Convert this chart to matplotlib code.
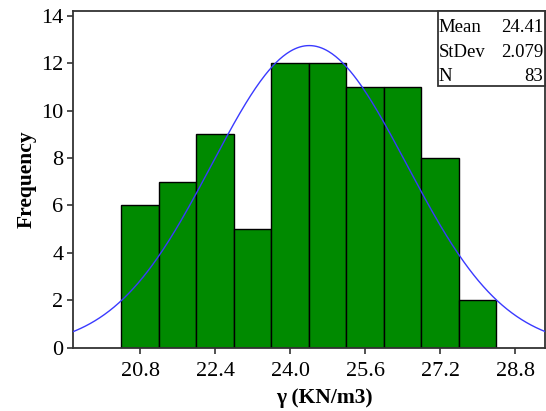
import matplotlib
matplotlib.use("Agg")
import matplotlib.pyplot as plt
import numpy as np
from matplotlib.patches import Rectangle

# histogram data (bin centres, width 0.8)
bin_centers = [20.8, 21.6, 22.4, 23.2, 24.0, 24.8, 25.6, 26.4, 27.2, 28.0]
counts = [6, 7, 9, 5, 12, 12, 11, 11, 8, 2]
bin_width = 0.8

# fitted normal summary
mean = 24.41
stdev = 2.079
n_obs = 83

x_ticks = [20.8, 22.4, 24.0, 25.6, 27.2, 28.8]
y_ticks = [0, 2, 4, 6, 8, 10, 12, 14]

plt.rcParams["font.family"] = ["Liberation Serif", "DejaVu Serif"]

fig = plt.figure(figsize=(5.46, 4.11), dpi=100)
ax = fig.add_axes([73 / 546, 1 - 347.7 / 411, (545 - 73) / 546, (347.7 - 11) / 411])

ax.bar(bin_centers, counts, width=bin_width, color="#008a00",
       edgecolor="black", linewidth=1.0, zorder=2)

xs = np.linspace(19.3, 29.5, 400)
pdf = n_obs * bin_width / (stdev * np.sqrt(2 * np.pi)) * np.exp(-0.5 * ((xs - mean) / stdev) ** 2)
ax.plot(xs, pdf, color="#3a3aff", linewidth=1.0, zorder=3)

ax.set_xlim(19.37, 29.44)
ax.set_ylim(0, 14.2)
ax.set_xticks(x_ticks, [f"{t:.1f}" for t in x_ticks])
ax.set_yticks(y_ticks)
ax.tick_params(direction="out", length=4, width=1.2, color="#333333",
               labelsize=16)
ax.tick_params(axis="x", pad=6)
ax.tick_params(axis="y", pad=3)
for side in ("left", "bottom", "top", "right"):
    ax.spines[side].set_color("#333333")
    ax.spines[side].set_linewidth(1.3)

ax.set_xlabel("γ (KN/m3)", fontsize=15.5, fontweight="bold")
ax.set_ylabel("Frequency", fontsize=15.5, fontweight="bold")
ax.xaxis.set_label_coords(0.532, -0.12)
ax.yaxis.set_label_coords(-0.076, 0.5)

# stats box in the top right corner
bx0, by0 = 0.773, 0.777
ax.add_patch(Rectangle((bx0, by0), 1 - bx0, 1 - by0, transform=ax.transAxes,
                       facecolor="white", edgecolor="#333333", linewidth=1.3,
                       zorder=5, clip_on=False))
rows = [("Mean", f"{mean:.2f}"), ("StDev", f"{stdev:.3f}"), ("N", f"{n_obs}")]
for i, (name, val) in enumerate(rows):
    yy = 0.950 - i * 0.073
    ax.text(bx0 + 0.002, yy, name, transform=ax.transAxes, fontsize=13.5,
            ha="left", va="center", zorder=6)
    ax.text(0.996, yy, val, transform=ax.transAxes, fontsize=13.5,
            ha="right", va="center", zorder=6)

fig.savefig("out.png", dpi=100)
